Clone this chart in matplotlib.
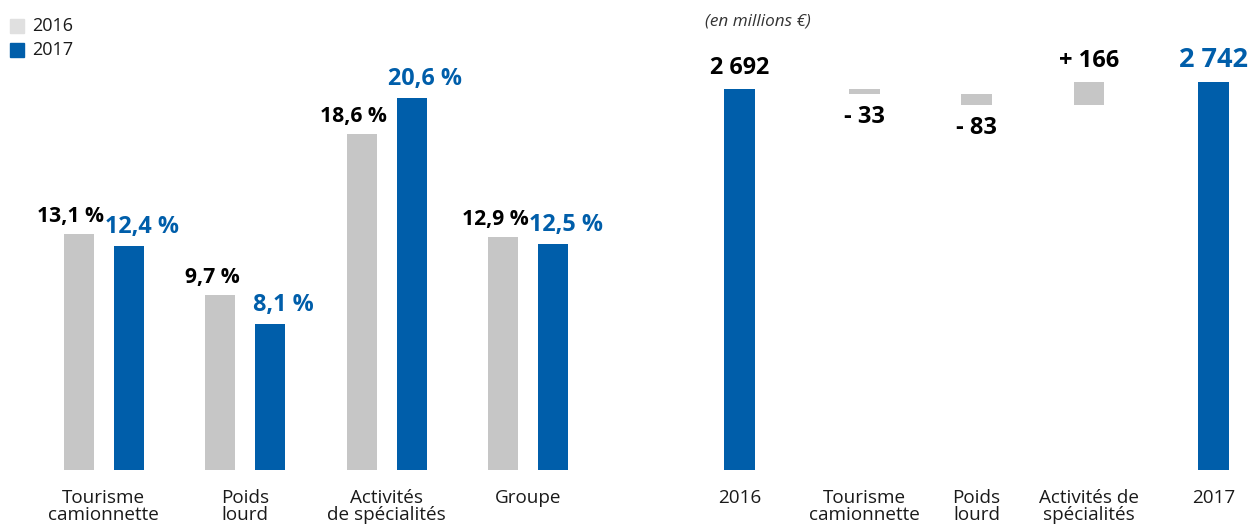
import matplotlib
matplotlib.use("Agg")
import matplotlib.pyplot as plt

# left chart: margins by activity
categories = ["Tourisme\ncamionnette", "Poids\nlourd", "Activités\nde spécialités", "Groupe"]
marge_2016 = [13.1, 9.7, 18.6, 12.9]
marge_2017 = [12.4, 8.1, 20.6, 12.5]
series_names = ["2016", "2017"]

# right chart: waterfall (en millions €)
wf_labels = ["2016", "Tourisme\ncamionnette", "Poids\nlourd", "Activités de\nspécialités", "2017"]
start_value = 2692
deltas = [-33, -83, 166]
end_value = 2742

GREY = "#c6c6c6"
GREY_LEG = "#e0e0e0"
BLUE = "#005eaa"
TXT = "#1a1a1a"

plt.rcParams["font.family"] = ["Open Sans", "DejaVu Sans"]

fig = plt.figure(figsize=(12.51, 5.29), dpi=100)
W, H = 1251, 529

def fmt_pct(v):
    return f"{v:.1f} %".replace(".", ",")

# ---- left grouped bars
ax1 = fig.add_axes([19 / W, 59 / H, 594 / W, 433 / H])
x = list(range(len(categories)))
bw = 0.212
off = 0.177
ax1.bar([i - off for i in x], marge_2016, bw, color=GREY)
ax1.bar([i + off for i in x], marge_2017, bw, color=BLUE)
for i in x:
    ax1.annotate(fmt_pct(marge_2016[i]), (i - off, marge_2016[i]), xytext=(-8, 7),
                 textcoords="offset pixels", ha="center", va="bottom",
                 fontsize=15.2, fontweight="bold", color="black")
    ax1.annotate(fmt_pct(marge_2017[i]), (i + off, marge_2017[i]), xytext=(13, 7),
                 textcoords="offset pixels", ha="center", va="bottom",
                 fontsize=16.8, fontweight="bold", color=BLUE)
ax1.set_xlim(-0.6, 3.6)
ax1.set_ylim(0, 24)
ax1.set_xticks(x)
ax1.set_xticklabels(categories, fontsize=13.6, color=TXT, linespacing=0.92)
ax1.tick_params(axis="x", length=0, pad=14)
ax1.set_yticks([])
for s in ax1.spines.values():
    s.set_visible(False)

# legend
for name, col, yy in [(series_names[0], GREY_LEG, 26), (series_names[1], BLUE, 50)]:
    fig.patches.append(plt.Rectangle((10 / W, (H - yy - 7) / H), 14 / W, 14 / H,
                                     transform=fig.transFigure, color=col))
    fig.text(32 / W, (H - yy) / H, name, fontsize=13, color=TXT, va="center")

# ---- right waterfall
ax2 = fig.add_axes([680.6 / W, 59 / H, 592 / W, 440 / H])
pos = [0, 1.05, 2.0, 2.95, 4.0]
bw2 = 0.26
ax2.bar(pos[0], start_value, bw2, color=BLUE)
run = start_value
for k, d in enumerate(deltas):
    lo = min(run, run + d)
    ax2.bar(pos[k + 1], abs(d), bw2, bottom=lo, color=GREY)
    if d < 0:
        ax2.annotate(f"- {abs(d)}", (pos[k + 1], lo), xytext=(0, -11),
                     textcoords="offset pixels", ha="center", va="top",
                     fontsize=17, fontweight="bold", color="black")
    else:
        ax2.annotate(f"+ {d}", (pos[k + 1], run + d), xytext=(0, 9),
                     textcoords="offset pixels", ha="center", va="bottom",
                     fontsize=17, fontweight="bold", color="black")
    run += d
ax2.bar(pos[4], end_value, bw2, color=BLUE)

def fmt_th(v):
    return f"{v:,}".replace(",", " ")

ax2.annotate(fmt_th(start_value), (pos[0], start_value), xytext=(0, 9),
             textcoords="offset pixels", ha="center", va="bottom",
             fontsize=16.8, fontweight="bold", color="black")
ax2.annotate(fmt_th(end_value), (pos[4], end_value), xytext=(0, 9),
             textcoords="offset pixels", ha="center", va="bottom",
             fontsize=19.5, fontweight="bold", color=BLUE)
ax2.set_xlim(-0.5, 4.5)
ax2.set_ylim(0, 440 / 0.1415)
ax2.set_xticks(pos)
ax2.set_xticklabels(wf_labels, fontsize=13.6, color=TXT, linespacing=0.92)
ax2.tick_params(axis="x", length=0, pad=14)
ax2.set_yticks([])
for s in ax2.spines.values():
    s.set_visible(False)

fig.text(705 / W, (H - 22) / H, "(en millions €)", fontsize=12.3, style="italic",
         color="#333333", va="center")

fig.savefig("out.png", dpi=100)
